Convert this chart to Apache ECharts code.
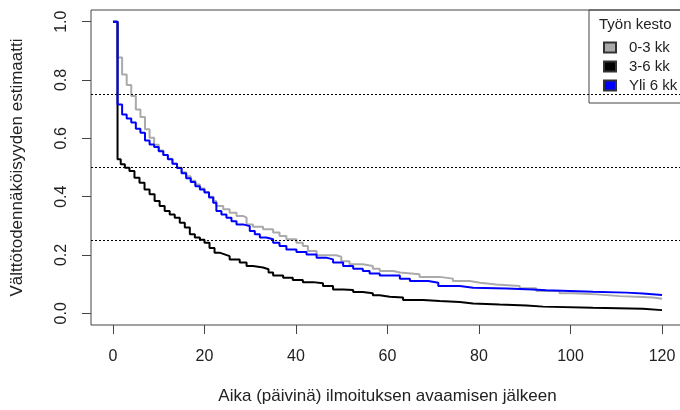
<!DOCTYPE html>
<html>
<head>
<meta charset="utf-8">
<script src="https://cdn.jsdelivr.net/npm/echarts@6/dist/echarts.min.js"></script>
<style>
html,body{margin:0;padding:0;background:#fff;}
#chart{width:680px;height:410px;}
</style>
</head>
<body>
<div id="chart"></div>
<script>
// Kaplan-Meier step estimates
const legendTitle = 'Työn kesto';
const groupNames = ['0-3 kk', '3-6 kk', 'Yli 6 kk'];
const xTicks = [0, 20, 40, 60, 80, 100, 120];
const yTicks = [0, 0.2, 0.4, 0.6, 0.8, 1.0];
const refLines = [0.25, 0.5, 0.75];

const timeA = [0,1,2,3,4,5,6,7,8,9,10,11,12,13,14,15,16,17,18,19,20,21,22,22.6,24.1,25.5,27.0,28.4,29.2,30.6,32.8,35.0,36.4,37.9,40.1,41.5,42.6,44.5,48.8,49.9,51.7,54.6,56.8,58.3,61.3,62.7,67.0,71.4,74.3,78.0,80.2,83.8,88.9,92.5,97.6,100.5,105.7,110.8,115.8,118,120];
const survA = [1.0,0.877,0.819,0.783,0.745,0.699,0.673,0.631,0.602,0.578,0.558,0.543,0.530,0.513,0.500,0.484,0.470,0.455,0.442,0.428,0.416,0.400,0.385,0.368,0.357,0.345,0.334,0.328,0.305,0.297,0.288,0.277,0.265,0.254,0.242,0.231,0.214,0.199,0.194,0.179,0.168,0.162,0.153,0.145,0.140,0.134,0.125,0.119,0.111,0.105,0.099,0.094,0.086,0.077,0.069,0.065,0.059,0.056,0.054,0.050,0.050];

const timeB = [0,1,1.7,2.6,3.6,4.7,5.8,6.9,8.0,9.1,10.2,11.3,12.4,13.5,14.6,15.7,16.8,17.9,19.0,20.0,21.1,22.2,23.3,24.4,25.5,27.7,29.2,30.6,32.8,34.0,35.0,37.2,39.3,41.5,43.7,45.9,48.1,50.3,52.5,54.6,56.8,58.3,60.5,63.4,67.8,71.4,75.8,78.7,84.5,90.4,94.0,104.9,115.8,120];
const survB = [1.0,0.528,0.511,0.499,0.488,0.465,0.448,0.425,0.408,0.385,0.368,0.351,0.339,0.328,0.311,0.294,0.271,0.260,0.252,0.242,0.224,0.208,0.202,0.196,0.185,0.174,0.162,0.157,0.151,0.140,0.130,0.122,0.114,0.107,0.103,0.094,0.082,0.080,0.073,0.069,0.062,0.057,0.054,0.046,0.042,0.039,0.034,0.030,0.027,0.023,0.019,0.016,0.011,0.011];

const timeC = [0,1,2,3,4,5,6,7,8,9,10,11,12,13,14,15,16,17,18,19,20,21,21.9,22.6,23.7,24.8,25.9,27.0,28.4,29.9,31.0,32.1,33.5,35.0,36.4,37.9,40.1,42.3,44.5,46.6,48.1,50.3,52.5,54.6,56.1,58.3,62.7,64.9,68.9,71.1,75.8,78.7,86.0,91.8,94.7,104.9,112.2,115.8,120];
const survC = [1.0,0.716,0.682,0.668,0.654,0.633,0.619,0.593,0.579,0.570,0.556,0.543,0.528,0.513,0.498,0.480,0.463,0.450,0.436,0.425,0.414,0.397,0.379,0.351,0.339,0.328,0.316,0.305,0.299,0.282,0.271,0.260,0.254,0.242,0.231,0.219,0.210,0.202,0.191,0.185,0.174,0.162,0.153,0.145,0.137,0.130,0.119,0.111,0.105,0.094,0.088,0.085,0.082,0.079,0.074,0.071,0.068,0.063,0.063];

const colors = ['#aaaaaa', '#000000', '#0000ff'];
const FONT = "'Liberation Sans', Arial, sans-serif";

function pairs(t, s) { return t.map((v, i) => [v, s[i]]); }
const datasets = [pairs(timeA, survA), pairs(timeB, survB), pairs(timeC, survC)];

const chart = echarts.init(document.getElementById('chart'), null, {renderer: 'canvas'});

const series = groupNames.map((name, i) => ({
  name: name,
  type: 'line',
  step: 'end',
  data: datasets[i],
  showSymbol: false,
  symbol: 'none',
  animation: false,
  silent: true,
  lineStyle: {color: colors[i], width: 2},
  itemStyle: {color: colors[i], borderColor: '#333', borderWidth: 1},
  z: 2 + i
}));
series[0].markLine = {
  silent: true,
  symbol: ['none', 'none'],
  label: {show: false},
  lineStyle: {type: [2, 2], color: '#000', width: 1},
  data: refLines.map(v => ({yAxis: v})),
  z: 10
};

chart.setOption({
  animation: false,
  textStyle: {fontFamily: FONT},
  grid: {
    left: 91, top: 10, width: 593, height: 315,
    outerBoundsMode: 'none', containLabel: false,
    show: true, borderColor: '#444', borderWidth: 1, backgroundColor: 'transparent'
  },
  title: {
    text: legendTitle, left: 599, top: 17,
    padding: 0,
    textStyle: {fontFamily: FONT, fontSize: 15, fontWeight: 'normal', color: '#222'}
  },
  legend: {
    orient: 'vertical', left: 589, top: 10,
    data: groupNames,
    icon: 'rect', itemWidth: 12, itemHeight: 10, itemGap: 0,
    borderColor: '#444', borderWidth: 1,
    padding: [28, 20, 8, 14],
    selectedMode: false,
    textStyle: {fontFamily: FONT, fontSize: 15, color: '#222', lineHeight: 19, padding: [0, 0, 0, 8]}
  },
  xAxis: {
    type: 'value', min: -4.8, max: 124.8,
    name: 'Aika (päivinä) ilmoituksen avaamisen jälkeen',
    nameLocation: 'middle', nameGap: 63,
    nameTextStyle: {fontFamily: FONT, fontSize: 17, color: '#222'},
    axisLine: {show: false, onZero: false},
    splitLine: {show: false},
    axisTick: {show: true, inside: false, length: 9, customValues: xTicks, lineStyle: {color: '#444'}},
    axisLabel: {customValues: xTicks, margin: 24, fontFamily: FONT, fontSize: 16, color: '#222',
      formatter: v => String(v)}
  },
  yAxis: {
    type: 'value', min: -0.04, max: 1.04,
    name: 'Välttötodennäköisyyden estimaatti',
    nameLocation: 'middle', nameGap: 65, nameRotate: 90,
    nameTextStyle: {fontFamily: FONT, fontSize: 17, color: '#222'},
    axisLine: {show: false, onZero: false},
    splitLine: {show: false},
    axisTick: {show: true, inside: false, length: 9, customValues: yTicks, lineStyle: {color: '#444'}},
    axisLabel: {customValues: yTicks, margin: 21, rotate: 90, fontFamily: FONT, fontSize: 16, color: '#222',
      formatter: v => v.toFixed(1)}
  },
  series: series
});
</script>
</body>
</html>
